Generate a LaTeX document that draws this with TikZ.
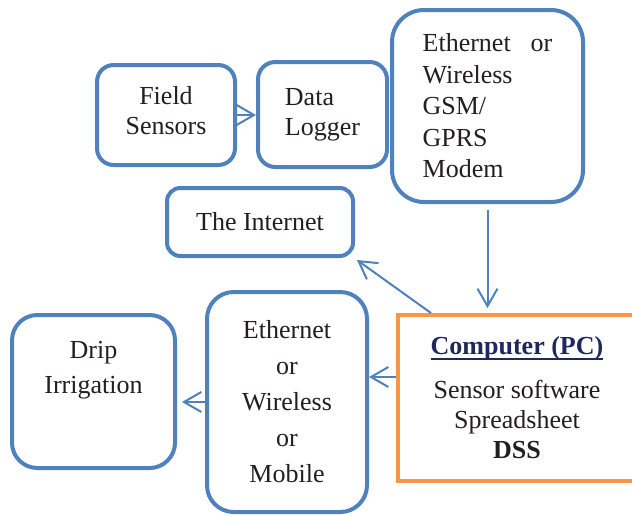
\documentclass[tikz,border=0pt]{standalone}
\usepackage{fontspec}
\setmainfont{Liberation Serif}
\usetikzlibrary{arrows.meta,calc}
\definecolor{boxblue}{RGB}{79,129,189}
\definecolor{pcorange}{RGB}{247,150,70}
\definecolor{navy}{RGB}{31,40,94}
\definecolor{ink}{RGB}{35,31,32}
\newcommand\pcunder[1]{\setbox0\hbox{#1}\rlap{\color{navy}\rule[-3.5pt]{\wd0}{1.5pt}}\box0}
\begin{document}
\begin{tikzpicture}[x=0.75pt,y=-0.75pt,
  box/.style={draw=boxblue,line width=3pt,fill=white,align=center,inner sep=0pt,text=ink,font=\fontsize{19.5}{22.5}\selectfont},
  pcbox/.style={draw=pcorange,line width=3pt,fill=white,align=center,inner sep=0pt,text=ink,font=\fontsize{19.5}{22.5}\selectfont},
  link/.style={draw=boxblue,line width=1.5pt,-{Straight Barb[length=13pt,width=15pt]}}]
\useasboundingbox (0,0) rectangle (632,515);
\node[box,rounded corners=12.5pt,minimum width=103.5pt,minimum height=75pt,text depth=7pt] (fs) at (166,115) {Field\\Sensors};
\node[box,rounded corners=13pt,minimum width=96.75pt,minimum height=78.75pt,align=left] (dl) at (322.5,114.5) {Data\\Logger};
\node[box,rounded corners=24pt,minimum width=143.25pt,minimum height=144pt,align=left,font=\fontsize{19.5}{23.6}\selectfont] (modem) at (487.5,106) {Ethernet\hspace{15pt}or\\Wireless\\GSM/\\GPRS\\Modem};
\node[box,rounded corners=10pt,minimum width=139.5pt,minimum height=51pt] (inet) at (260,222) {The Internet};
\node[pcbox,minimum width=178.5pt,minimum height=124.5pt] (pc) at (517,398) {{\bfseries\color{navy}\pcunder{Computer (PC)}}\\[10.5pt]Sensor software\\Spreadsheet\\\textbf{DSS}};
\node[box,rounded corners=20pt,minimum width=120pt,minimum height=165pt,font=\fontsize{19.5}{27}\selectfont] (mid) at (287,402) {Ethernet\\or\\Wireless\\or\\Mobile};
\node[box,rounded corners=19pt,minimum width=122.25pt,minimum height=114.75pt,font=\fontsize{19.5}{26.25}\selectfont,text depth=36pt] (drip) at (93.5,391.5) {Drip\\Irrigation};
\draw[link] (fs.east) -- (fs.east -| dl.west);
\draw[link,shorten <=4.5pt,shorten >=3.75pt] (modem.south) -- (modem.south |- pc.north);
\draw[link] ($(pc.north west)+(35,0)$) -- ($(inet.south east)+(2,2)$);
\draw[link] ([yshift=15.75pt]pc.west) -- ([yshift=15.75pt]pc.west -| mid.east);
\draw[link,shorten >=3.75pt] (mid.west) -- (mid.west -| drip.east);
\end{tikzpicture}
\end{document}
